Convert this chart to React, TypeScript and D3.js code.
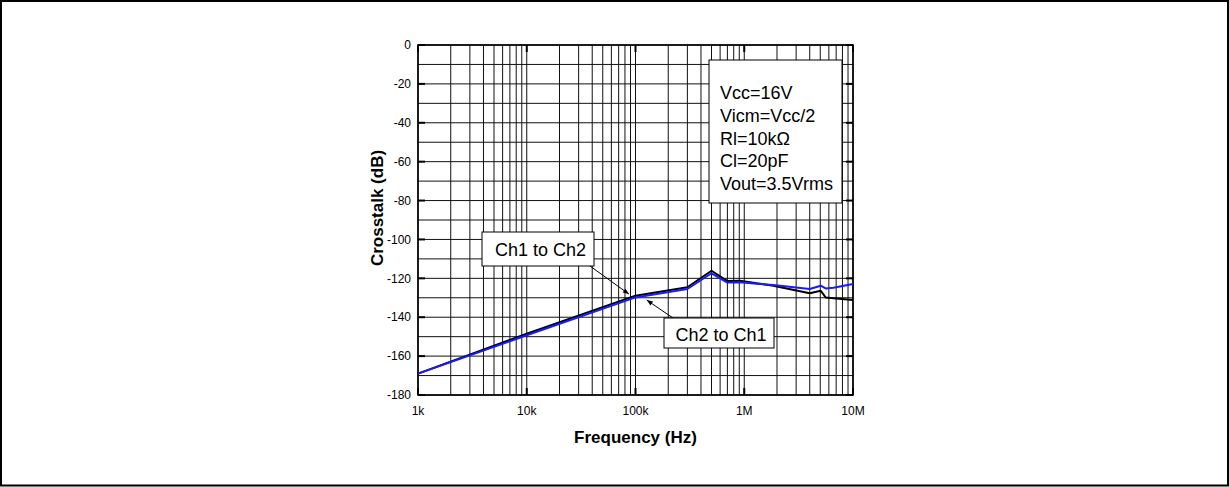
import React from "react";
import * as d3 from "d3";

const W = 1229;
const H = 487;

// Frequency (Hz) and crosstalk (dB)
const ch1Freq = [1e3, 1e4, 1e5, 3e5, 5e5, 7e5, 9.1e5, 1.3e6, 1.85e6, 4e6, 5.05e6, 5.6e6, 6.6e6, 1e7];
const ch1Db = [-169, -148.5, -128.9, -124.6, -116.1, -121.4, -121.2, -122.5, -123.8, -127.7, -126.4, -129.8, -130.3, -131.1];
const ch2Freq = [1e3, 1e4, 1e5, 3e5, 5e5, 7e5, 9.1e5, 1.3e6, 1.85e6, 4e6, 5.05e6, 5.6e6, 6.6e6, 1e7];
const ch2Db = [-169, -149.3, -129.8, -125.5, -117.4, -122.2, -122.0, -122.8, -123.4, -125.5, -123.8, -125.2, -124.8, -122.9];

const xTickValues = [1e3, 1e4, 1e5, 1e6, 1e7];
const xTickLabels = ["1k", "10k", "100k", "1M", "10M"];
const yTickValues = [0, -20, -40, -60, -80, -100, -120, -140, -160, -180];
const conditions = ["Vcc=16V", "Vicm=Vcc/2", "Rl=10k\u03A9", "Cl=20pF", "Vout=3.5Vrms"];

const plot = { left: 418, top: 45, right: 853, bottom: 395 };

export default function App() {
  const x = d3.scaleLog().domain([1e3, 1e7]).range([plot.left, plot.right]);
  const y = d3.scaleLinear().domain([-180, 0]).range([plot.bottom, plot.top]);

  const minorX: number[] = [];
  for (let e = 3; e < 7; e++) {
    for (let m = 1; m <= 9; m++) minorX.push(m * Math.pow(10, e));
  }
  minorX.push(1e7);
  const minorY = d3.range(-180, 1, 10);

  const line = d3
    .line<[number, number]>()
    .x((d) => x(d[0]))
    .y((d) => y(d[1]));

  const ch1 = ch1Freq.map((f, i) => [f, ch1Db[i]] as [number, number]);
  const ch2 = ch2Freq.map((f, i) => [f, ch2Db[i]] as [number, number]);

  const font = "Liberation Sans, Arial, Helvetica, sans-serif";

  // annotation arrow tips (in data coords)
  const tip1 = [x(8.7e4), y(-128.1)];
  const tip2 = [x(1.27e5), y(-131.2)];

  return (
    <svg
      width={W}
      height={H}
      style={{ position: "absolute", left: 0, top: 0, background: "#fff" }}
      fontFamily={font}
    >
      <defs>
        <marker id="ah" viewBox="0 0 10 10" refX="10" refY="5" markerWidth="7" markerHeight="6" orient="auto" markerUnits="userSpaceOnUse">
          <path d="M0,1 L10,5 L0,9 z" fill="#000" />
        </marker>
      </defs>
      <rect x={1} y={1} width={1227} height={484.5} fill="#fff" stroke="#000" strokeWidth={2} />

      {/* grid */}
      {minorX.map((f, i) => (
        <line key={"gx" + i} x1={x(f)} x2={x(f)} y1={plot.top} y2={plot.bottom} stroke="#111" strokeWidth={1} />
      ))}
      {minorY.map((v, i) => (
        <line key={"gy" + i} x1={plot.left} x2={plot.right} y1={y(v)} y2={y(v)} stroke="#111" strokeWidth={1} />
      ))}
      {/* major y ticks */}
      {yTickValues.map((v, i) => (
        <g key={"yt" + i}>
          <line x1={plot.left} x2={plot.left + 7} y1={y(v)} y2={y(v)} stroke="#000" strokeWidth={2} />
          <line x1={plot.right - 7} x2={plot.right} y1={y(v)} y2={y(v)} stroke="#000" strokeWidth={2} />
        </g>
      ))}
      {xTickValues.map((v, i) => (
        <g key={"xt" + i}>
          <line x1={x(v)} x2={x(v)} y1={plot.bottom} y2={plot.bottom - 7} stroke="#000" strokeWidth={2} />
          <line x1={x(v)} x2={x(v)} y1={plot.top} y2={plot.top + 7} stroke="#000" strokeWidth={2} />
        </g>
      ))}
      <rect
        x={plot.left}
        y={plot.top}
        width={plot.right - plot.left}
        height={plot.bottom - plot.top}
        fill="none"
        stroke="#000"
        strokeWidth={1.6}
      />

      {/* tick labels */}
      {yTickValues.map((v, i) => (
        <text key={"yl" + i} x={411} y={y(v)} dy="0.35em" textAnchor="end" fontSize={12} fill="#000">
          {v}
        </text>
      ))}
      {xTickValues.map((v, i) => (
        <text key={"xl" + i} x={x(v)} y={415} textAnchor="middle" fontSize={12} fill="#000">
          {xTickLabels[i]}
        </text>
      ))}

      {/* axis titles */}
      <text
        transform={`translate(383,208) rotate(-90)`}
        textAnchor="middle"
        fontSize={17}
        fontWeight="bold"
        fill="#000"
      >
        Crosstalk (dB)
      </text>
      <text x={635.5} y={443} textAnchor="middle" fontSize={17} fontWeight="bold" fill="#000">
        Frequency (Hz)
      </text>

      {/* data */}
      <path d={line(ch1) || ""} fill="none" stroke="#000" strokeWidth={2} strokeLinejoin="round" />
      <path d={line(ch2) || ""} fill="none" stroke="#1a1aff" strokeWidth={2} strokeLinejoin="round" />

      {/* conditions box */}
      <rect x={709} y={60} width={133} height={143} fill="#fff" stroke="#000" strokeWidth={1} />
      {conditions.map((c, i) => (
        <text key={"c" + i} x={720} y={99 + i * 22.75} fontSize={18} fill="#000">
          {c}
        </text>
      ))}

      {/* annotations */}
      <line x1={590} y1={266} x2={tip1[0]} y2={tip1[1]} stroke="#000" strokeWidth={1} markerEnd="url(#ah)" />
      <rect x={482} y={232} width={112} height={34} fill="#fff" stroke="#000" strokeWidth={1} />
      <text x={540.5} y={256} textAnchor="middle" fontSize={18} fill="#000">
        Ch1 to Ch2
      </text>

      <line x1={673} y1={318} x2={tip2[0]} y2={tip2[1]} stroke="#000" strokeWidth={1} markerEnd="url(#ah)" />
      <rect x={664} y={318} width={110} height={30} fill="#fff" stroke="#000" strokeWidth={1} />
      <text x={721} y={340.5} textAnchor="middle" fontSize={18} fill="#000">
        Ch2 to Ch1
      </text>
    </svg>
  );
}
